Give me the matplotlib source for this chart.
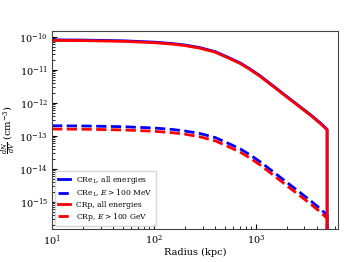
import matplotlib
matplotlib.use("Agg")
import matplotlib.pyplot as plt

plt.rcParams['font.family'] = 'serif'
plt.rcParams['mathtext.fontset'] = 'dejavuserif'

# radius in kpc, densities in cm^-3
radius = [10, 20, 50, 100, 150, 200, 280, 400, 550, 700, 875, 1100, 1500, 2000,
          2700, 3500, 4300, 5000, 5000]

cre_all = [8.04e-11, 7.92e-11, 7.53e-11, 6.87e-11, 6.24e-11, 5.62e-11, 4.70e-11,
           3.53e-11, 2.28e-11, 1.61e-11, 1.06e-11, 6.56e-12, 3.14e-12, 1.57e-12,
           7.71e-13, 4.14e-13, 2.43e-13, 1.57e-13, 1e-22]
cre_100mev = [2.01e-13, 1.98e-13, 1.88e-13, 1.72e-13, 1.56e-13, 1.40e-13, 1.18e-13,
              8.81e-14, 5.69e-14, 4.03e-14, 2.65e-14, 1.64e-14, 7.85e-15, 3.93e-15,
              1.93e-15, 1.03e-15, 6.08e-16, 3.93e-16, 1e-22]
crp_all = [7.73e-11, 7.62e-11, 7.24e-11, 6.61e-11, 6.00e-11, 5.40e-11, 4.52e-11,
           3.39e-11, 2.19e-11, 1.55e-11, 1.02e-11, 6.31e-12, 3.02e-12, 1.51e-12,
           7.41e-13, 3.98e-13, 2.34e-13, 1.51e-13, 1e-22]
crp_100gev = [1.60e-13, 1.58e-13, 1.50e-13, 1.37e-13, 1.24e-13, 1.12e-13, 9.36e-14,
              7.02e-14, 4.53e-14, 3.21e-14, 2.11e-14, 1.31e-14, 6.25e-15, 3.13e-15,
              1.53e-15, 8.24e-16, 4.84e-16, 3.13e-16, 1e-22]

fig = plt.figure(figsize=(3.49, 2.62), dpi=100)
ax = fig.add_axes([0.149, 0.126, 0.819, 0.756])

ax.plot(radius, cre_all, color='blue', lw=2, label=r'CRe$_1$, all energies')
ax.plot(radius, cre_100mev, color='blue', lw=2, ls='--', label=r'CRe$_1$, $E > 100$ MeV')
ax.plot(radius, crp_all, color='red', lw=2, label='CRp, all energies')
ax.plot(radius, crp_100gev, color='red', lw=2, ls='--', label=r'CRp, $E > 100$ GeV')

ax.set_xscale('log')
ax.set_yscale('log')
ax.set_xlim(10, 6370)
ax.set_ylim(1.5e-16, 1.5e-10)
ax.tick_params(which='both', direction='in', labelsize=7, pad=3)
ax.set_xlabel('Radius (kpc)', fontsize=7, labelpad=0)
ax.set_ylabel(r'$\frac{dN}{dV}$ (cm$^{-3}$)', fontsize=7, labelpad=0.5)
for s in ax.spines.values():
    s.set_color('#444444')

ax.legend(loc='lower left', fontsize=5.5, handlelength=1.6, labelspacing=0.25,
          borderaxespad=0.4)

fig.savefig('out.png', dpi=100)
